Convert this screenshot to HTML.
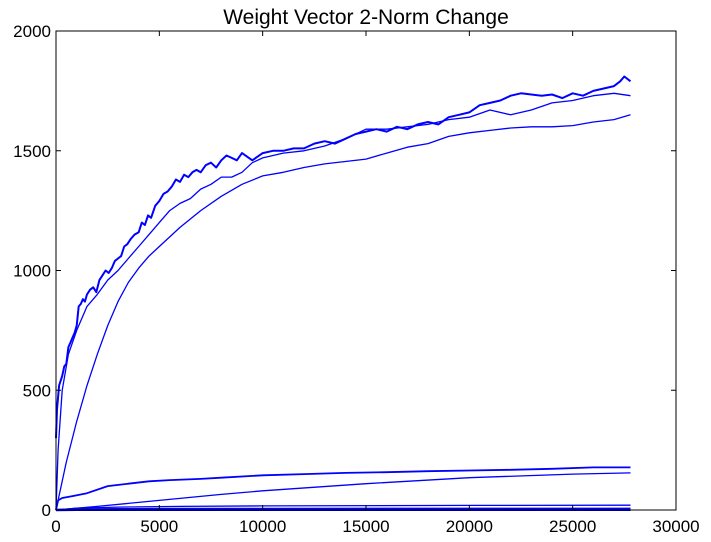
<!DOCTYPE html>
<html><head><meta charset="utf-8"><style>
body{margin:0;background:#fff;}
svg{display:block;font-family:"Liberation Sans","DejaVu Sans",sans-serif;}
</style></head><body>
<svg id="chart" width="711" height="542" viewBox="0 0 711 542">
<rect width="711" height="542" fill="#fff"/>
<text x="366" y="24" font-size="21" text-anchor="middle">Weight Vector 2-Norm Change</text>
<g id="series"></g>
<rect x="56" y="31" width="620" height="479" fill="none" stroke="#000" stroke-width="1"/>
<g id="axes"></g>
</svg>
<script>
const xTicks=[0,5000,10000,15000,20000,25000,30000];
const yTicks=[0,500,1000,1500,2000];
const sNoisyX=[0,50,150,300,400,500,600,700,800,900,1000,1100,1200,1300,1400,1500,1650,1800,1950,2100,2250,2400,2550,2700,2850,3000,3150,3300,3450,3600,3800,4000,4150,4300,4450,4600,4800,5000,5200,5400,5600,5800,6000,6200,6400,6600,6800,7000,7250,7500,7750,8000,8250,8500,8750,9000,9500,10000,10500,11000,11500,12000,12500,13000,13500,14000,14500,15000,15500,16000,16500,17000,17500,18000,18500,19000,19500,20000,20500,21000,21500,22000,22500,23000,23500,24000,24500,25000,25500,26000,26500,27000,27300,27500,27800];
const sNoisyY=[300,420,520,560,600,610,680,700,720,740,770,850,860,880,870,900,920,930,910,960,980,1000,990,1010,1040,1050,1060,1100,1110,1130,1150,1160,1200,1190,1230,1220,1270,1290,1320,1330,1350,1380,1370,1400,1390,1410,1420,1410,1440,1450,1430,1460,1480,1470,1460,1490,1460,1490,1500,1500,1510,1510,1530,1540,1530,1550,1570,1580,1590,1580,1600,1590,1610,1620,1610,1640,1650,1660,1690,1700,1710,1730,1740,1735,1730,1735,1720,1740,1730,1750,1760,1770,1790,1810,1790];
const sMidX=[0,100,300,600,1000,1500,2000,2500,3000,3500,4000,4500,5000,5500,6000,6500,7000,7500,8000,8500,9000,9500,10000,11000,12000,13000,14000,15000,16000,17000,18000,19000,20000,21000,22000,23000,24000,25000,26000,27000,27800];
const sMidY=[0,250,500,650,750,850,900,960,1000,1050,1100,1150,1200,1250,1280,1300,1340,1360,1390,1390,1410,1450,1470,1490,1500,1520,1550,1590,1590,1600,1610,1630,1640,1670,1650,1670,1700,1710,1730,1740,1730];
const sSmoothX=[0,500,1000,1500,2000,2500,3000,3500,4000,4500,5000,6000,7000,8000,9000,10000,11000,12000,13000,14000,15000,16000,17000,18000,19000,20000,21000,22000,23000,24000,25000,26000,27000,27800];
const sSmoothY=[0,200,370,520,650,770,870,950,1010,1060,1100,1180,1250,1310,1360,1395,1410,1430,1445,1455,1465,1490,1515,1530,1560,1575,1585,1595,1600,1600,1605,1620,1630,1650];
const sLowX=[0,100,300,800,1500,2500,3500,4500,5500,7000,8000,10000,12000,14000,16000,18000,20000,22000,24000,26000,27800];
const sLowY=[0,40,50,58,70,100,110,120,125,130,135,145,150,155,158,162,165,168,172,178,178];
const sLinX=[0,2000,5000,8000,10000,15000,20000,25000,27800];
const sLinY=[0,15,40,65,80,110,135,150,155];
const sFlatX=[0,1000,3000,6000,10000,20000,27800];
const sFlatA=[0,8,12,15,17,19,20];
const sFlatB=[0,3,4,5,5,6,6];
const sFlatC=[0,1,1,1,1,1,1];
const X0=56,X1=676,Y0=510,Y1=31;
const xs=v=>X0+(v-0)/(30000)*(X1-X0);
const ys=v=>Y0-(v/2000)*(Y0-Y1);
const NS="http://www.w3.org/2000/svg";
const sg=document.getElementById('series'), ax=document.getElementById('axes');
function line(xArr,yArr,name,w){
  const p=document.createElementNS(NS,'path');
  p.setAttribute('d',xArr.map((x,i)=>(i?'L':'M')+xs(x).toFixed(1)+' '+ys(yArr[i]).toFixed(1)).join(' '));
  p.setAttribute('fill','none');p.setAttribute('stroke','#0000ff');p.setAttribute('stroke-width',w);
  p.setAttribute('stroke-linejoin','round');
  
  
  sg.appendChild(p);
}
line(sSmoothX,sSmoothY,'series-smooth',1.3);
line(sMidX,sMidY,'series-mid',1.3);
line(sNoisyX,sNoisyY,'series-noisy',2);
line(sLowX,sLowY,'series-low',1.8);
line(sLinX,sLinY,'series-linear',1.3);
line(sFlatX,sFlatA,'series-flat-a',1.3);
line(sFlatX,sFlatB,'series-flat-b',2);
line(sFlatX,sFlatC,'series-flat-c',2.5);
xTicks.forEach(v=>{
  const x=xs(v);
  const t=document.createElementNS(NS,'path');
  t.setAttribute('d',`M${x} ${Y0}V${Y0-5}M${x} ${Y1}V${Y1+5}`);t.setAttribute('stroke','#000');
  
  
  ax.appendChild(t);
  const l=document.createElementNS(NS,'text');
  l.setAttribute('x',x);l.setAttribute('y',Y0+22);l.setAttribute('font-size','17');l.setAttribute('text-anchor','middle');
  l.textContent=v;
  
  
  ax.appendChild(l);
});
yTicks.forEach(v=>{
  const y=ys(v);
  const t=document.createElementNS(NS,'path');
  t.setAttribute('d',`M${X0} ${y}H${X0+5}M${X1} ${y}H${X1-5}`);t.setAttribute('stroke','#000');
  
  
  ax.appendChild(t);
  const l=document.createElementNS(NS,'text');
  l.setAttribute('x',X0-5);l.setAttribute('y',y+6);l.setAttribute('font-size','17');l.setAttribute('text-anchor','end');
  l.textContent=v;
  
  
  ax.appendChild(l);
});
</script>
</body></html>
